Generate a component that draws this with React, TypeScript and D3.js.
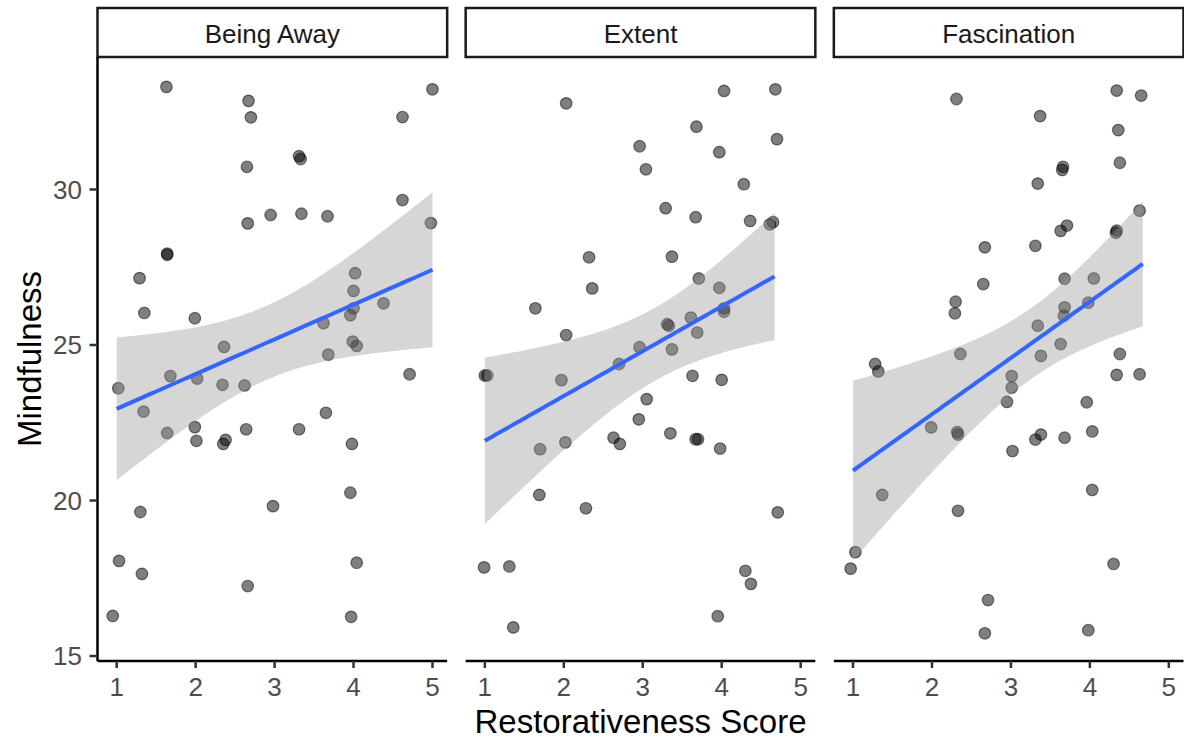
import React from 'react';
import * as d3 from 'd3';

// facet labels
const facets = ['Being Away', 'Extent', 'Fascination'];

// [restorativeness score, mindfulness] (points are jittered)
const beingAway: [number, number][] = [
  [1.63, 33.3], [2.67, 32.85], [2.7, 32.32], [5.0, 33.22], [4.62, 32.33], [3.31, 31.07], [3.33, 30.98],
  [2.65, 30.73], [4.62, 29.66], [2.66, 28.91], [2.95, 29.18], [3.34, 29.22], [3.67, 29.14], [4.98, 28.92],
  [1.64, 27.94], [1.64, 27.9], [1.29, 27.15], [1.35, 26.03], [1.99, 25.86], [2.36, 24.94], [4.02, 27.31],
  [4.0, 26.74], [4.0, 26.18], [3.96, 25.96], [4.38, 26.34], [3.62, 25.7], [3.99, 25.11], [4.04, 24.97],
  [3.68, 24.69], [4.71, 24.06], [1.02, 23.61], [1.68, 24.0], [2.02, 23.92], [2.34, 23.72], [2.62, 23.7],
  [1.34, 22.86], [1.64, 22.17], [1.99, 22.36], [2.01, 21.92], [2.35, 21.82], [2.38, 21.95], [2.64, 22.29],
  [3.31, 22.29], [3.65, 22.82], [3.98, 21.82], [3.96, 20.25], [2.98, 19.82], [1.3, 19.63], [1.03, 18.06],
  [1.32, 17.64], [2.66, 17.25], [4.04, 18.0], [0.95, 16.29], [3.97, 16.26],
];

const extent: [number, number][] = [
  [2.03, 32.77], [4.03, 33.17], [4.68, 33.22], [3.68, 32.02], [4.7, 31.62], [2.96, 31.39], [3.97, 31.2],
  [3.04, 30.65], [4.28, 30.17], [3.29, 29.4], [3.67, 29.11], [4.36, 28.99], [4.61, 28.88], [4.65, 28.95],
  [2.32, 27.82], [3.37, 27.84], [2.36, 26.82], [1.64, 26.18], [3.71, 27.14], [3.97, 26.84], [4.03, 26.18],
  [4.03, 26.07], [2.03, 25.32], [3.31, 25.67], [3.33, 25.62], [3.61, 25.88], [3.69, 25.4], [2.96, 24.93],
  [3.37, 24.86], [2.7, 24.39], [1.0, 24.02], [1.03, 24.02], [1.97, 23.87], [3.63, 24.01], [4.0, 23.88],
  [3.05, 23.26], [2.95, 22.61], [2.63, 22.02], [2.71, 21.82], [3.35, 22.16], [3.67, 21.97], [3.7, 21.97],
  [3.98, 21.67], [1.7, 21.65], [2.02, 21.87], [1.69, 20.18], [2.28, 19.75], [4.71, 19.62], [0.99, 17.85],
  [1.31, 17.88], [4.3, 17.74], [4.37, 17.32], [3.95, 16.28], [1.36, 15.92],
];

const fascination: [number, number][] = [
  [2.31, 32.91], [4.34, 33.18], [4.65, 33.02], [3.37, 32.36], [4.36, 31.91], [4.38, 30.86], [3.66, 30.73],
  [3.65, 30.63], [3.34, 30.19], [4.63, 29.32], [3.71, 28.84], [3.63, 28.67], [4.34, 28.68], [4.33, 28.61],
  [2.67, 28.14], [3.31, 28.19], [2.65, 26.96], [2.3, 26.39], [2.29, 26.02], [3.68, 27.13], [4.05, 27.14],
  [3.68, 26.21], [3.67, 25.94], [3.98, 26.36], [3.34, 25.62], [3.63, 25.03], [2.36, 24.71], [3.38, 24.65],
  [4.38, 24.71], [4.34, 24.04], [4.63, 24.06], [1.28, 24.39], [1.32, 24.15], [3.01, 24.0], [3.01, 23.63],
  [2.95, 23.17], [3.96, 23.16], [1.99, 22.35], [2.32, 22.2], [2.33, 22.12], [3.38, 22.12], [3.31, 21.96],
  [3.68, 22.02], [4.03, 22.22], [3.02, 21.59], [4.03, 20.34], [1.37, 20.18], [2.33, 19.67], [1.03, 18.34],
  [0.97, 17.81], [4.3, 17.96], [2.71, 16.8], [2.67, 15.73], [3.98, 15.83],
];

// x extent of the (unjittered) data the smoother covers
const fitRanges: [number, number][] = [[1, 5], [1, 4.67], [1, 4.67]];

const xTicks = [1, 2, 3, 4, 5];
const yTicks = [15, 20, 25, 30];

const W = 1184;
const H = 742;
const left = 97.5;
const right = 1183.5;
const gap = 18.5;
const stripTop = 8;
const panelTop = 57;
const panelBottom = 661;
const pw = (right - left - 2 * gap) / 3;
const font = '"Liberation Sans", Arial, sans-serif';

// lm with 95% confidence band, like geom_smooth(method = "lm")
function linFit(pts: [number, number][], range: [number, number]) {
  const n = pts.length;
  const mx = d3.mean(pts, d => d[0])!;
  const my = d3.mean(pts, d => d[1])!;
  const sxx = d3.sum(pts, d => (d[0] - mx) ** 2);
  const sxy = d3.sum(pts, d => (d[0] - mx) * (d[1] - my));
  const b = sxy / sxx;
  const a = my - b * mx;
  const s = Math.sqrt(d3.sum(pts, d => (d[1] - a - b * d[0]) ** 2) / (n - 2));
  const t = 2.006;
  return d3.range(0, 81).map(i => {
    const x = range[0] + ((range[1] - range[0]) * i) / 80;
    const fit = a + b * x;
    const se = s * Math.sqrt(1 / n + (x - mx) ** 2 / sxx);
    return { x, fit, lo: fit - t * se, hi: fit + t * se };
  });
}

const App = () => {
  const panels = [beingAway, extent, fascination];
  const y = d3.scaleLinear().domain([14.84, 34.26]).range([panelBottom, panelTop]);

  return (
    <svg width={W} height={H} style={{ position: 'absolute', left: 0, top: 0, background: '#fff' }}>
      {panels.map((pts, i) => {
        const x0 = left + i * (pw + gap);
        const x = d3.scaleLinear().domain([0.757, 5.186]).range([x0, x0 + pw]);
        const fit = linFit(pts, fitRanges[i]);
        const band = d3.area<any>().x(d => x(d.x)).y0(d => y(d.lo)).y1(d => y(d.hi));
        const line = d3.line<any>().x(d => x(d.x)).y(d => y(d.fit));
        return (
          <g key={facets[i]}>
            <rect x={x0} y={stripTop} width={pw} height={panelTop - stripTop}
              fill="#fff" stroke="#1a1a1a" strokeWidth={2.5} />
            <text x={x0 + pw / 2} y={43} textAnchor="middle" fontFamily={font}
              fontSize={26} fill="#1a1a1a">{facets[i]}</text>
            {pts.map((d, j) => (
              <circle key={j} cx={x(d[0])} cy={y(d[1])} r={5.8}
                fill="#000" fillOpacity={0.5} stroke="#000" strokeOpacity={0.5} strokeWidth={1.2} />
            ))}
            <path d={band(fit)!} fill="#999" fillOpacity={0.4} />
            <path d={line(fit)!} fill="none" stroke="#3366FF" strokeWidth={4} />
            <line x1={x0} x2={x0 + pw} y1={panelBottom} y2={panelBottom} stroke="#000" strokeWidth={2.5} />
            {xTicks.map(t => (
              <g key={t}>
                <line x1={x(t)} x2={x(t)} y1={panelBottom} y2={panelBottom + 7} stroke="#333" strokeWidth={2.5} />
                <text x={x(t)} y={696} textAnchor="middle" fontFamily={font} fontSize={26} fill="#4d4d4d">{t}</text>
              </g>
            ))}
            {i === 0 && (
              <g>
                <line x1={x0} x2={x0} y1={panelTop} y2={panelBottom} stroke="#000" strokeWidth={2.5} />
                {yTicks.map(t => (
                  <g key={t}>
                    <line x1={x0 - 8} x2={x0} y1={y(t)} y2={y(t)} stroke="#333" strokeWidth={2.5} />
                    <text x={82} y={y(t)} dy="0.36em" textAnchor="end" fontFamily={font} fontSize={26} fill="#4d4d4d">{t}</text>
                  </g>
                ))}
              </g>
            )}
          </g>
        );
      })}
      <text transform={`translate(41,${(panelTop + panelBottom) / 2}) rotate(-90)`} textAnchor="middle"
        fontFamily={font} fontSize={33} fill="#000">Mindfulness</text>
      <text x={(left + right) / 2} y={733} textAnchor="middle" fontFamily={font} fontSize={33} fill="#000">
        Restorativeness Score
      </text>
    </svg>
  );
};

export default App;
